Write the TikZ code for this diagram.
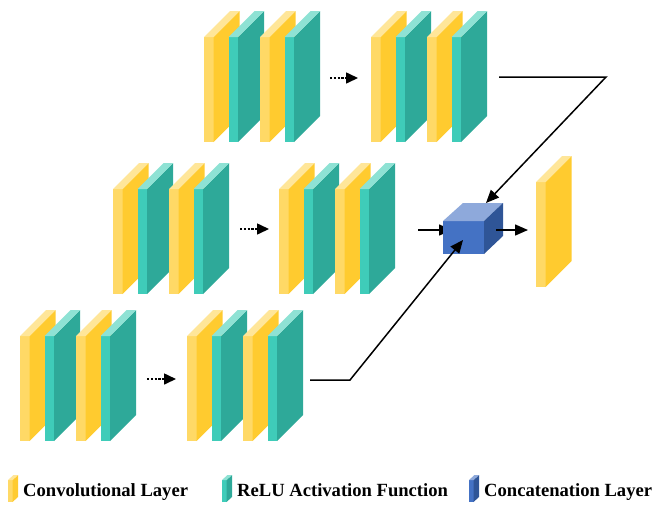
\documentclass[tikz,border=0pt]{standalone}
\usepackage{fontspec}
\setmainfont{Liberation Serif}
\usetikzlibrary{arrows.meta}
\definecolor{yF}{HTML}{FFD966}
\definecolor{yS}{HTML}{FFCB2F}
\definecolor{yT}{HTML}{FFE699}
\definecolor{tF}{HTML}{3FCCB9}
\definecolor{tS}{HTML}{2EA999}
\definecolor{tT}{HTML}{8EE2D4}
\definecolor{cF}{HTML}{4472C4}
\definecolor{cS}{HTML}{2F5597}
\definecolor{cT}{HTML}{8EA9DB}
\newcommand\myslab[5]{%
  \fill[#3] (#1,#2) rectangle ++(9.5,105);
  \fill[#4] (#1+9.5,#2) -- ++(26,-26) -- ++(0,105) -- ++(-26,26) -- cycle;
  \fill[#5] (#1,#2) -- ++(26,-26) -- ++(9.5,0) -- ++(-26,26) -- cycle;}
\newcommand\yslab[2]{\myslab{#1}{#2}{yF}{yS}{yT}}
\newcommand\tslab[2]{\myslab{#1}{#2}{tF}{tS}{tT}}
\newcommand\mygrp[2]{\yslab{#1}{#2}\tslab{#1+24.5}{#2}\yslab{#1+56}{#2}\tslab{#1+80.5}{#2}}
\newcommand\legslab[4]{%
  \fill[#2] (#1,480) rectangle ++(4.5,22);
  \fill[#3] (#1+4.5,480) -- ++(5.5,-5) -- ++(0,22) -- ++(-5.5,5) -- cycle;
  \fill[#4] (#1,480) -- ++(5.5,-5) -- ++(4.5,0) -- ++(-5.5,5) -- cycle;}
\tikzset{
  conn/.style={line width=1.5pt, -{Triangle[length=13pt,width=11pt]}},
  dotconn/.style={line width=1.6pt, dash pattern=on 2.2pt off 1.6pt, -{Triangle[length=12pt,width=11pt]}},
  legtext/.style={anchor=base west, inner sep=0pt, font=\fontsize{18.6}{20}\selectfont\bfseries}
}
\begin{document}
\begin{tikzpicture}[x=1pt,y=-1pt]
\useasboundingbox (0,0) rectangle (653,504);
% rows of layers
\mygrp{204}{37}\mygrp{371}{37}
\mygrp{113}{189}\mygrp{279}{189}
\mygrp{20}{336}\mygrp{187}{336}
% dotted arrows
\coordinate (d1a) at (330,78); \coordinate (d1b) at (358,78);
\coordinate (d2a) at (240,229); \coordinate (d2b) at (269,229);
\coordinate (d3a) at (147,379); \coordinate (d3b) at (176,379);
\draw[dotconn] (d1a) -- (d1b);
\draw[dotconn] (d2a) -- (d2b);
\draw[dotconn] (d3a) -- (d3b);
% connectors to concatenation
\coordinate (midout) at (418,230); \coordinate (cubeleft) at (452,230);
\draw[conn] (midout) -- (cubeleft);
% cube
\fill[cF] (443,221) rectangle (484,254);
\fill[cT] (443,221) -- (463,203) -- (503,203) -- (484,221) -- cycle;
\fill[cS] (484,221) -- (503,203) -- (503,236) -- (484,254) -- cycle;
\coordinate (topout) at (499,77); \coordinate (topturn) at (606,77);
\coordinate (cubetop) at (486,203);
\draw[conn, line join=miter] (topout) -- (topturn) -- (cubetop);
\coordinate (botout) at (310,380); \coordinate (botturn) at (350,380);
\coordinate (cubefront) at (463,240);
\draw[conn] (botout) -- (botturn) -- (cubefront);
\coordinate (cubeout) at (496,230); \coordinate (outin) at (528,230);
\draw[conn] (cubeout) -- (outin);
% output layer
\yslab{536}{182}
% legend
\legslab{8}{yF}{yS}{yT}
\node[legtext] (l1) at (23,496) {Convolutional Layer};
\legslab{222}{tF}{tS}{tT}
\node[legtext] (l2) at (237,496) {ReLU Activation Function};
\legslab{469}{cF}{cS}{cT}
\node[legtext] (l3) at (484,496) {Concatenation Layer};
\end{tikzpicture}
\end{document}
